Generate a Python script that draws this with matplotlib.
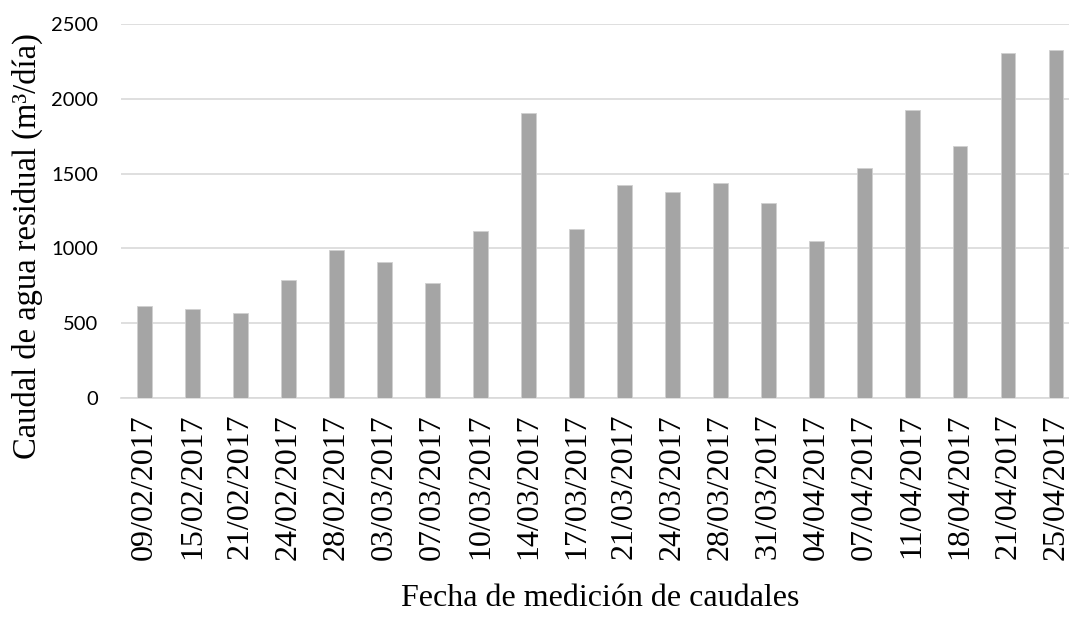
import matplotlib
matplotlib.use("Agg")
import matplotlib.pyplot as plt

fechas = ["09/02/2017", "15/02/2017", "21/02/2017", "24/02/2017", "28/02/2017",
          "03/03/2017", "07/03/2017", "10/03/2017", "14/03/2017", "17/03/2017",
          "21/03/2017", "24/03/2017", "28/03/2017", "31/03/2017", "04/04/2017",
          "07/04/2017", "11/04/2017", "18/04/2017", "21/04/2017", "25/04/2017"]
caudal = [612, 596, 569, 788, 991, 906, 770, 1114, 1904, 1127,
          1422, 1379, 1440, 1304, 1051, 1538, 1926, 1685, 2308, 2324]
yticks = [0, 500, 1000, 1500, 2000, 2500]

fig = plt.figure(figsize=(10.69, 6.18), dpi=100)
ax = fig.add_axes([120.5 / 1069, (618 - 398) / 618, (1080 - 120.5) / 1069, (398 - 24) / 618])

x = list(range(len(fechas)))
ax.bar(x, caudal, width=0.31, color="#A5A5A5", edgecolor="#D0D0D0", linewidth=0.6, zorder=3)

ax.set_xlim(-0.5, len(fechas) - 0.5)
ax.set_ylim(0, 2500)
ax.set_yticks(yticks)
ax.set_yticklabels([str(v) for v in yticks], fontfamily="Lato", fontsize=14.5, color="#000000")
ax.set_xticks(x)
ax.set_xticklabels(fechas, rotation=90, fontfamily="Liberation Serif", fontsize=23)
ax.tick_params(axis="y", length=0, pad=16)
ax.tick_params(axis="x", length=0, pad=11.5)

ax.grid(axis="y", color="#D9D9D9", linewidth=1.2, zorder=0)
for s in ["top", "right", "left"]:
    ax.spines[s].set_visible(False)
ax.spines["bottom"].set_color("#D9D9D9")
ax.spines["bottom"].set_linewidth(1.2)

fig.text(27 / 1069, 1 - 246 / 618, "Caudal de agua residual (m³/día)", rotation=90,
         ha="center", va="center", fontfamily="Liberation Serif", fontsize=23.5)
fig.text(600 / 1069, 1 - 598 / 618, "Fecha de medición de caudales",
         ha="center", va="center", fontfamily="Liberation Serif", fontsize=23)

fig.savefig("out.png", dpi=100)
